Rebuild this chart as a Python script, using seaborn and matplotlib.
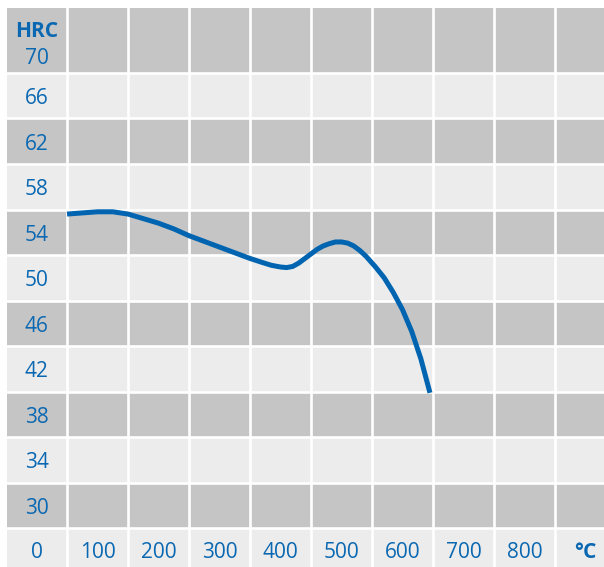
import matplotlib
matplotlib.use("Agg")
import matplotlib.pyplot as plt
import seaborn as sns

# tempering curve
temp_c = [50, 75, 100, 125, 150, 175, 200, 225, 250, 275, 300, 325, 350, 370,
          385, 400, 410, 420, 430, 440, 450, 460, 470, 480, 490, 500, 510,
          520, 530, 540, 555, 570, 585, 600, 615, 630, 645]
hardness = [55.6, 55.7, 55.8, 55.8, 55.6, 55.2, 54.8, 54.3, 53.7, 53.2, 52.7,
            52.2, 51.7, 51.35, 51.1, 50.95, 50.9, 51.0, 51.3, 51.7, 52.1, 52.5,
            52.8, 53.0, 53.15, 53.15, 53.05, 52.8, 52.4, 51.9, 51.0, 50.0,
            48.7, 47.2, 45.3, 42.9, 39.9]

x_labels = ["0", "100", "200", "300", "400", "500", "600", "700", "800", "°C"]
x_label_pos = [0, 100, 200, 300, 400, 500, 600, 700, 800, 900]
y_labels = ["70", "66", "62", "58", "54", "50", "46", "42", "38", "34", "30"]
y_label_pos = [70, 66, 62, 58, 54, 50, 46, 42, 38, 34, 30]

BLUE = "#0064b0"
TEXT_BLUE = "#0a68b2"
DARK = "#c5c5c5"
LIGHT = "#ececec"

sns.set_style("white")
plt.rcParams["font.family"] = ["Open Sans", "DejaVu Sans"]

fig = plt.figure(figsize=(6.04, 5.67), dpi=100)
ax = fig.add_axes([7 / 604, 0, 597 / 604, 559 / 567])
ax.set_facecolor(LIGHT)
ax.set_xlim(-48.4, 930.3)
ax.set_ylim(24.6, 73.7)

# alternating row bands
for i, v in enumerate(y_label_pos):
    if i % 2 == 0:
        top = 73.7 if i == 0 else v + 2
        ax.axhspan(v - 2, top, color=DARK, lw=0, zorder=0)

# white cell borders
for gx in range(50, 900, 100):
    ax.axvline(gx, color="white", lw=1.9, zorder=1)
for gy in range(28, 72, 4):
    ax.axhline(gy, color="white", lw=1.9, zorder=1)

sns.lineplot(x=temp_c, y=hardness, ax=ax, color=BLUE, linewidth=3.6,
             solid_capstyle="butt", zorder=3)

for lab, v in zip(y_labels, y_label_pos):
    yy = 69.3 if lab == "70" else v - 0.25
    ax.text(0, yy, lab, ha="center", va="center", color=TEXT_BLUE, fontsize=15)
ax.text(0, 71.6, "HRC", ha="center", va="center", color=TEXT_BLUE,
        fontsize=15, fontweight="bold")

for lab, p in zip(x_labels, x_label_pos):
    ax.text(p, 25.85, lab, ha="center", va="center", color=TEXT_BLUE,
            fontsize=15, fontweight="bold" if lab == "°C" else "normal")

ax.set_xticks([])
ax.set_yticks([])
ax.set_xlabel("")
ax.set_ylabel("")
for s in ax.spines.values():
    s.set_visible(False)

fig.savefig("out.png", dpi=100)
